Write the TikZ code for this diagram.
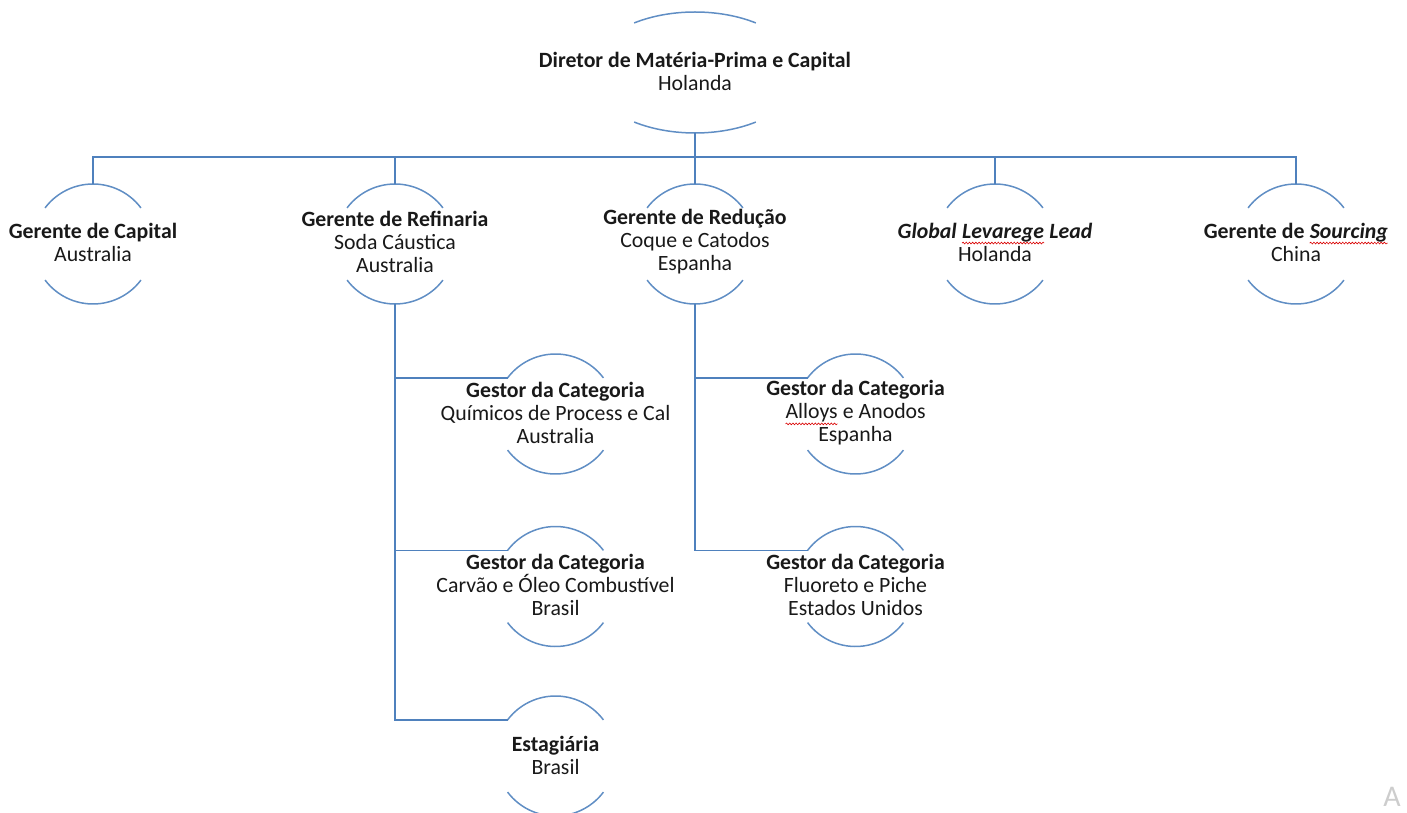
\documentclass[tikz,border=0pt]{standalone}
\usepackage{fontspec}
\setmainfont{Carlito}
\usetikzlibrary{shapes.geometric,decorations.pathmorphing}
\definecolor{ln}{RGB}{79,129,189}
\definecolor{arcc}{RGB}{96,142,196}
\definecolor{wm}{RGB}{205,205,205}
\newcommand\squig[1]{\tikz[baseline=(w.base)]{\node[inner sep=0pt,outer sep=0pt] (w) {#1};
  \draw[red!85!black,line width=0.6pt,decorate,decoration={snake,amplitude=0.9pt,segment length=3.2pt}]
  ([yshift=-5pt]w.base west) -- ([yshift=-5pt]w.base east);}}
\tikzset{
  conn/.style={draw=ln,line width=1.6pt},
  arcline/.style={draw=arcc,line width=1.5pt},
  hub/.style={circle,minimum size=120pt,inner sep=0pt,outer sep=0pt},
  tophub/.style={ellipse,minimum width=212pt,minimum height=121pt,inner sep=0pt,outer sep=0pt},
  txt/.style={align=center,inner sep=0pt,font=\fontsize{21.8}{23}\selectfont,text=black!90}
}
\begin{document}
\begin{tikzpicture}[x=1pt,y=1pt]
\useasboundingbox (0,0) rectangle (1407,812);
% top
\node[tophub] (d) at (695,739.5) {};
\node[txt] (dt) at (695,741) {\textbf{Diretor de Matéria-Prima e Capital}\\Holanda};
% level 1
\node[hub] (c1) at (93,568) {};
\node[hub] (c2) at (395,568) {};
\node[hub] (c3) at (695,568) {};
\node[hub] (c4) at (995,568) {};
\node[hub] (c5) at (1296,568) {};
\node[txt] (t1) at (93,570) {\textbf{Gerente de Capital}\\Australia};
\node[txt] (t2) at (395,570) {\textbf{Gerente de Refinaria}\\Soda Cáustica\\Australia};
\node[txt] (t3) at (695,570) {\textbf{Gerente de Redução}\\Coque e Catodos\\Espanha};
\node[txt] (t4) at (995,570) {\textbf{\textit{Global \squig{Levarege} Lead}}\\Holanda};
\node[txt] (t5) at (1296,570) {\textbf{Gerente de \textit{\squig{Sourcing}}}\\China};
% level 2
\node[hub] (g1) at (555.5,398) {};
\node[hub] (g2) at (555.5,225.5) {};
\node[hub] (e)  at (555.5,56) {};
\node[hub] (g3) at (855.5,398) {};
\node[hub] (g4) at (855.5,225.5) {};
\node[txt] (u1) at (555.5,399) {\textbf{Gestor da Categoria}\\Químicos de Process e Cal\\Australia};
\node[txt] (u2) at (555.5,227) {\textbf{Gestor da Categoria}\\Carvão e Óleo Combustível\\Brasil};
\node[txt] (u3) at (555.5,57) {\textbf{Estagiária}\\Brasil};
\node[txt] (u4) at (855.5,399) {\textbf{Gestor da Categoria}\\\squig{Alloys} e Anodos\\Espanha};
\node[txt] (u5) at (855.5,227) {\textbf{Gestor da Categoria}\\Fluoreto e Piche\\Estados Unidos};
% watermark fragment
\node[inner sep=0pt,text=wm,font=\fontsize{30}{30}\selectfont] (wm) at (1392,15) {A};
% arcs
\draw[arcline] ([shift={(55:106 and 60.5)}]d.center) arc[start angle=55,end angle=125,x radius=106,y radius=60.5];
\draw[arcline] ([shift={(235:106 and 60.5)}]d.center) arc[start angle=235,end angle=305,x radius=106,y radius=60.5];
\foreach \n in {c1,c2,c3,c4,c5,g1,g2,e,g3,g4}{
  \draw[arcline] (\n.37) arc[start angle=37,end angle=143,radius=60];
  \draw[arcline] (\n.217) arc[start angle=217,end angle=323,radius=60];
}
% connectors
\coordinate (bus) at (695,655);
\draw[conn] (d.south) -- (bus);
\draw[conn] (c1.north) |- (bus) -| (c5.north);
\foreach \n in {c2,c3,c4}{\draw[conn] (\n.north) -- (\n.north |- bus);}
\draw[conn] (c2.south) |- (e.143);
\draw[conn] (c2.south |- g1.143) -- (g1.143);
\draw[conn] (c2.south |- g2.143) -- (g2.143);
\draw[conn] (c3.south) |- (g4.143);
\draw[conn] (c3.south |- g3.143) -- (g3.143);
\end{tikzpicture}
\end{document}
